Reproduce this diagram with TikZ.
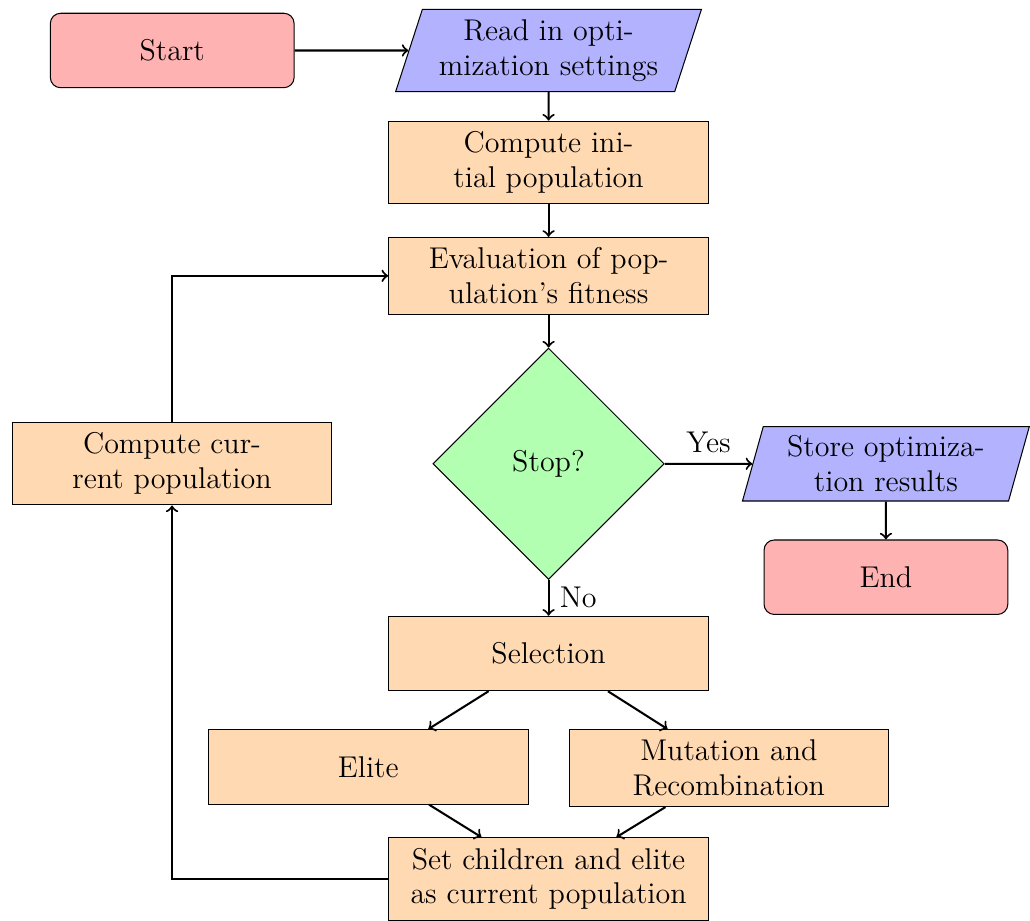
\documentclass[12pt,tikz,border=0pt]{standalone}
\usetikzlibrary{shapes.geometric,arrows,positioning,calc}

\begin{document}
\begin{tikzpicture}[
    node distance=0.45cm,
    font=\fontsize{11.7}{13.6}\selectfont,
    startstop/.style={rectangle, rounded corners, draw, fill=red!30, minimum width=3.34cm, minimum height=1.02cm, align=center},
    io/.style={trapezium, trapezium left angle=72, trapezium right angle=108, trapezium stretches body, draw, fill=blue!30, minimum height=1.02cm, align=center},
    process/.style={rectangle, draw, fill=orange!30, minimum width=4.38cm, minimum height=1.02cm, align=center},
    decision/.style={diamond, aspect=1, draw, fill=green!30, minimum width=3.17cm, minimum height=3.17cm, inner sep=0pt, align=center},
    arrow/.style={->, thick}
]
\node[startstop] (start) {Start};
\node[io, right=1.56cm of start, minimum width=4.19cm] (rd) {Read in opti-\\mization settings};
\node[process, below=0.39cm of rd] (init) {Compute ini-\\tial population};
\node[process, below=of init] (eval) {Evaluation of pop-\\ulation's fitness};
\node[decision, below=of eval] (dec) {Stop?};
\node[process, left=1.37cm of dec] (cur) {Compute cur-\\rent population};
\node[io, right=1.2cm of dec, minimum width=3.93cm, inner ysep=1.5pt] (store) {Store optimiza-\\tion results};
\node[startstop, below=0.52cm of store] (end) {End};
\node[process, below=0.49cm of dec] (sel) {Selection};
\node[process, below=0.52cm of sel, xshift=-2.47cm] (elite) {Elite};
\node[process, below=0.52cm of sel, xshift=2.47cm] (mut) {Mutation and\\Recombination};
\node[process, below=2cm of sel] (set) {Set children and elite\\as current population};

\draw[arrow] (start) -- (rd);
\draw[arrow] (rd) -- (init);
\draw[arrow] (init) -- (eval);
\draw[arrow] (eval) -- (dec);
\draw[arrow] (dec) -- node[above] {Yes} (store);
\draw[arrow] (store) -- (end);
\draw[arrow] (dec) -- node[right] {No} (sel);
\draw[arrow] (sel) -- (elite);
\draw[arrow] (sel) -- (mut);
\draw[arrow] (elite) -- (set);
\draw[arrow] (mut) -- (set);
\draw[arrow] (set.west) -| (cur.south);
\draw[arrow] (cur.north) |- (eval.west);

\pgfresetboundingbox
\path[use as bounding box] ($(cur.west |- rd.north)+(-0.16,0.12)$) rectangle (store.top right corner |- set.south);
\end{tikzpicture}
\end{document}
